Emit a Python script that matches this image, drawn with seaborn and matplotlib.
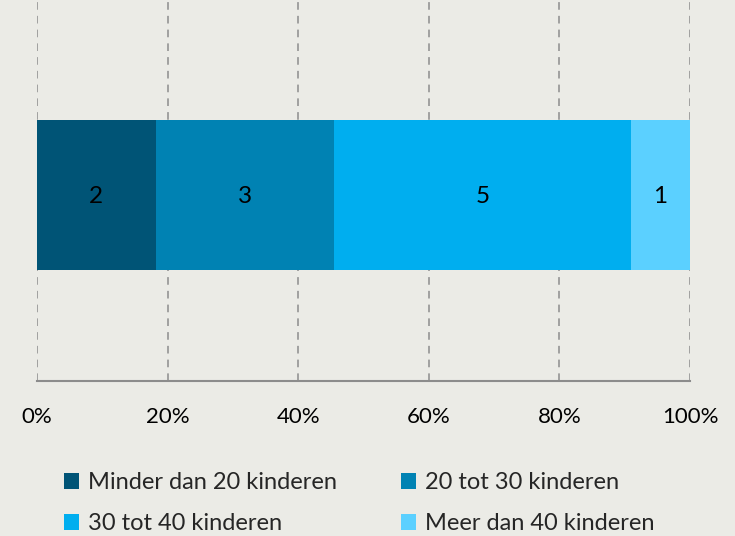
import matplotlib
matplotlib.use("Agg")
import matplotlib.pyplot as plt
import seaborn as sns
import numpy as np
import pandas as pd
from matplotlib.patches import Patch

categories = ["Minder dan 20 kinderen", "20 tot 30 kinderen", "30 tot 40 kinderen", "Meer dan 40 kinderen"]
counts = [2, 3, 5, 1]
colors = ["#005476", "#0082B3", "#00AEEF", "#5BD0FF"]
tick_values = [0, 20, 40, 60, 80, 100]
tick_labels = ["0%", "20%", "40%", "60%", "80%", "100%"]

sns.set_theme(style="white")
plt.rcParams["font.family"] = ["Lato", "DejaVu Sans"]

bg = "#EBEBE6"
fig = plt.figure(figsize=(7.35, 5.36), dpi=100, facecolor=bg)
ax = fig.add_axes([37/735, (536-381)/536, (690-37)/735, 381/536])
ax.set_facecolor(bg)

total = sum(counts)
pct = [c / total * 100 for c in counts]
cum = np.cumsum(pct)
starts = np.concatenate([[0], cum[:-1]])

# draw cumulative bars from largest to smallest for stacking
for i in range(len(counts) - 1, -1, -1):
    df = pd.DataFrame({"row": ["a"], "value": [cum[i]]})
    sns.barplot(data=df, x="value", y="row", orient="h", color=colors[i],
                saturation=1, width=0.4, ax=ax, zorder=3, linewidth=0)

for s, p, c in zip(starts, pct, counts):
    ax.text(s + p / 2, 0.005, str(c), ha="center", va="center", fontsize=17.5, color="#000000", zorder=4)

ax.set_xlim(0, 100)
ax.set_ylim(0.496, -0.52)
ax.set_xticks(tick_values)
ax.set_xticklabels(tick_labels, fontsize=16, color="#000000")
ax.set_yticks([])
ax.set_xlabel("")
ax.set_ylabel("")
ax.tick_params(axis="x", length=0, pad=19)
for sp in ["top", "left", "right"]:
    ax.spines[sp].set_visible(False)
ax.spines["bottom"].set_color("#8C8C8C")
ax.spines["bottom"].set_linewidth(1.5)
ax.xaxis.grid(True, color="#8C8C8C", linestyle=(0, (5, 4)), linewidth=1.1, zorder=1)
ax.set_axisbelow(True)

order = [0, 2, 1, 3]
handles = [Patch(facecolor=colors[k], edgecolor="none") for k in order]
labels = [categories[k] for k in order]
fig.legend(handles, labels, ncol=2, loc="upper left", bbox_to_anchor=(64/735, 1 - 472/536),
           frameon=False, fontsize=17, handlelength=0.64, handleheight=0.64,
           handletextpad=0.38, columnspacing=2.7, labelspacing=0.85, borderpad=0,
           borderaxespad=0)

fig.savefig("out.png", dpi=100, facecolor=bg)
